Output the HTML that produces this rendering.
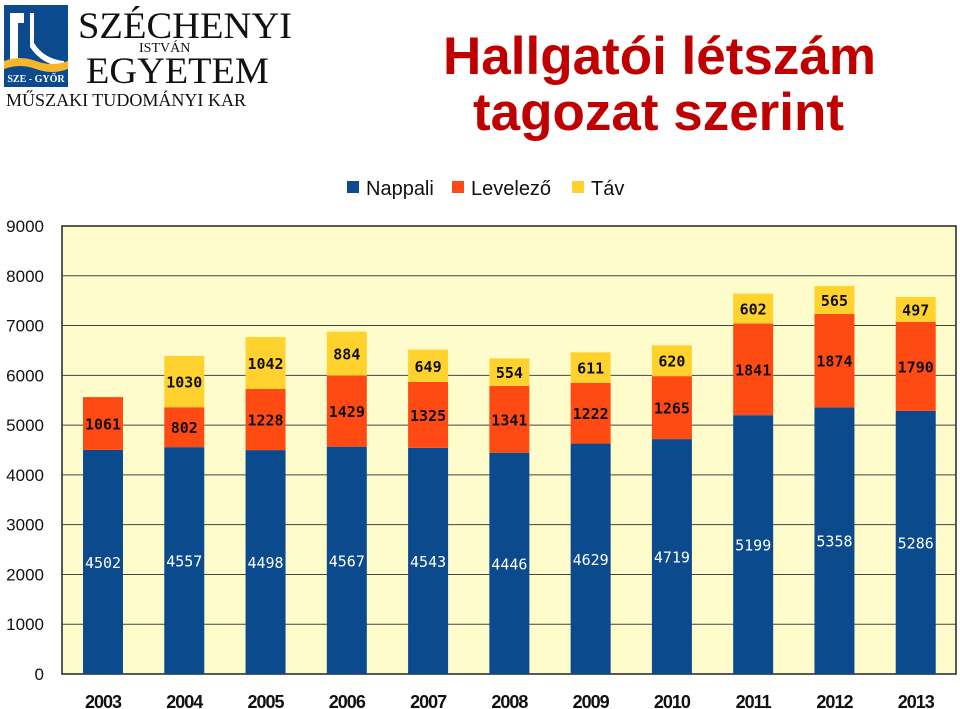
<!DOCTYPE html>
<html><head><meta charset="utf-8"><style>
body{margin:0;width:960px;height:709px;background:#fff;overflow:hidden;font-family:"Liberation Sans",sans-serif;position:relative}
.t{position:absolute;color:#c00000;font-weight:bold;font-size:53px;line-height:1;white-space:nowrap}
</style></head><body>
<div style="position:absolute;left:4px;top:5px;width:295px;height:105px">
 <svg width="295" height="105">
  <rect x="0" y="0" width="64" height="82" fill="#0b4a8c"/>
  <path d="M6 8 h14 v10 h-6 v40 h-8z" fill="#fff"/>
  <path d="M26 8 h4 v30 q10 16 30 18 v6 q-22 -2 -34 -20z" fill="#fff"/>
  <path d="M0 56 q16 -6 32 0 q16 6 32 0 v8 q-16 6 -32 0 q-16 -6 -32 0z" fill="#f6b52a"/>
  <text x="32" y="77" fill="#fff" font-size="10" font-family="Liberation Serif,serif" font-weight="bold" text-anchor="middle">SZE - GYŐR</text>
  <text x="74" y="33" font-size="37" font-family="Liberation Serif,serif" fill="#111" textLength="214" lengthAdjust="spacingAndGlyphs">SZÉCHENYI</text>
  <text x="135" y="47" font-size="14" font-family="Liberation Serif,serif" fill="#111">ISTVÁN</text>
  <text x="82" y="78" font-size="37" font-family="Liberation Serif,serif" fill="#111" textLength="183" lengthAdjust="spacingAndGlyphs">EGYETEM</text>
  <text x="2" y="101" font-size="18" font-family="Liberation Serif,serif" fill="#111" textLength="240" lengthAdjust="spacingAndGlyphs">MŰSZAKI TUDOMÁNYI KAR</text>
 </svg>
</div>
<div class="t" style="left:443px;top:30px">Hallgatói létszám</div>
<div class="t" style="left:473px;top:86px">tagozat szerint</div>
<svg id="c" width="960" height="709" style="position:absolute;left:0;top:0"></svg>
<script>
const years=["2003","2004","2005","2006","2007","2008","2009","2010","2011","2012","2013"];
const nappali=[4502,4557,4498,4567,4543,4446,4629,4719,5199,5358,5286];
const levelezo=[1061,802,1228,1429,1325,1341,1222,1265,1841,1874,1790];
const tav=[0,1030,1042,884,649,554,611,620,602,565,497];
const ticks=[0,1000,2000,3000,4000,5000,6000,7000,8000,9000];
const seriesNames=["Nappali","Levelező","Táv"];
const colors=["#0b4a8c","#ff4a14","#ffd22e"];
const L=62,R=956,T=226,B=674,max=9000;
const y=v=>B-(v/max)*(B-T);
const band=(R-L)/years.length;
const x=i=>L+i*band;
const s=document.getElementById('c');const NS="http://www.w3.org/2000/svg";
function mk(tag,a,p){const e=document.createElementNS(NS,tag);for(const k in a)e.setAttribute(k,a[k]);(p||s).appendChild(e);return e;}
const bg=mk('rect',{x:L,y:T,width:R-L,height:B-T,fill:'#fffccc',stroke:'#222','stroke-width':1.5});


ticks.forEach(t=>{
 if(t>0&&t<max){const g=mk('line',{x1:L,x2:R,y1:y(t),y2:y(t),stroke:'#444','stroke-width':1});
 
 }
 const tx=mk('text',{x:44,y:y(t)+6,'text-anchor':'end','font-size':17,fill:'#111'});tx.textContent=t;
 
 
});
const series=[nappali,levelezo,tav];
years.forEach((yr,i)=>{
 let base=0;const bx=x(i)+21,bw=40;
 series.forEach((arr,k)=>{
  const v=arr[i];if(!v)return;
  const r=mk('rect',{x:bx,y:y(base+v),width:bw,height:y(base)-y(base+v),fill:colors[k]});
  
  
  const lt=mk('text',{x:bx+bw/2,y:(y(base)+y(base+v))/2+6,'text-anchor':'middle','font-size':15,'font-weight':k?'bold':'normal','font-family':'DejaVu Sans Mono,monospace',fill:k?'#111':'#fff'});
  lt.textContent=v;
  
  
  base+=v;
 });
 const xl=mk('text',{x:bx+bw/2,y:708,'text-anchor':'middle','font-size':18,'font-weight':'bold',fill:'#111','letter-spacing':'-1'});
 xl.textContent=yr;
 
 
});
const lx=[347,452,572];
seriesNames.forEach((n,k)=>{
 const g=mk('g',{});
 
 
 mk('rect',{x:lx[k],y:181,width:12,height:12,fill:colors[k]},g);
 const t=mk('text',{x:lx[k]+19,y:195,'font-size':20,fill:'#111'},g);t.textContent=n;
});
</script>
</body></html>
